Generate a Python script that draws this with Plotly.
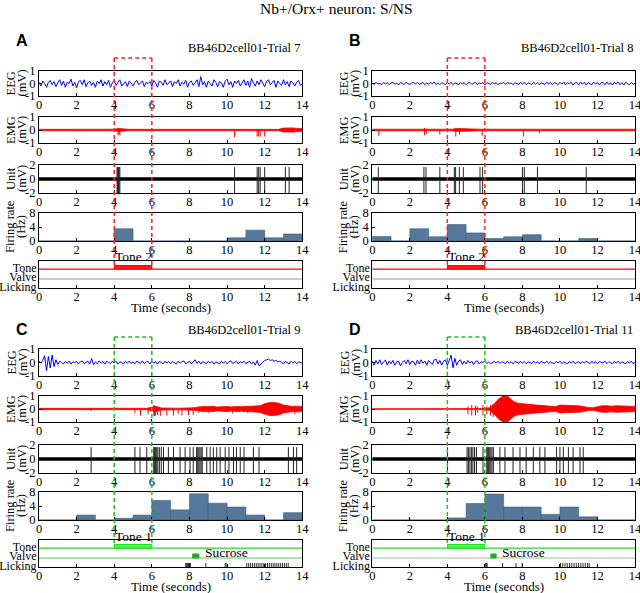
import plotly.graph_objects as go

W, H = 640, 593

# ---------------- data ----------------
panel_letters = ["A", "B", "C", "D"]
trial_labels = ["BB46D2cell01-Trial 7", "BB46D2cell01-Trial 8",
                "BB46D2cell01-Trial 9", "BB46D2cell01-Trial 11"]
tone_names = ["Tone 2", "Tone 2", "Tone 1", "Tone 1"]
x_ticks = [0, 2, 4, 6, 8, 10, 12, 14]

eeg_t = [i / 10 for i in range(141)]
emg_t = [i / 4 for i in range(57)]

eeg_A = [0.1,-0.2,0.2,0.0,-0.3,0.1,0.25,-0.1,0.15,-0.25,
         0.05,0.3,-0.15,0.2,-0.3,0.1,0.0,0.35,-0.2,0.1,
         -0.35,0.15,0.25,-0.1,0.3,-0.25,0.05,0.2,-0.15,0.1,
         -0.3,0.2,0.0,0.3,-0.2,0.15,-0.1,0.25,-0.3,0.05,
         0.2,-0.15,0.1,0.3,-0.2,0.0,0.15,-0.25,0.2,0.05,
         -0.2,0.1,0.25,-0.1,0.05,0.2,-0.25,0.1,0.0,0.15,
         -0.2,0.25,0.05,-0.3,0.2,0.1,-0.15,0.3,-0.1,0.05,
         0.2,-0.25,0.15,0.0,0.3,-0.2,0.1,-0.05,0.25,-0.3,
         0.1,0.2,-0.15,0.05,0.3,-0.25,0.55,-0.1,0.15,-0.3,
         0.2,0.0,-0.2,0.3,0.1,-0.25,0.15,0.05,-0.3,0.2,
         0.35,-0.1,0.15,-0.3,0.2,0.0,0.25,-0.2,0.1,0.3,
         -0.15,0.2,-0.3,0.4,0.05,-0.2,0.2,-0.1,0.3,0.0,
         -0.25,0.15,0.3,-0.1,0.05,0.25,-0.3,0.2,0.0,-0.15,
         0.3,-0.1,0.15,-0.25,0.2,0.05,-0.2,0.1,0.25,-0.15,0.0]
eeg_B = [0.05,-0.08,0.1,-0.05,0.02,-0.1,0.08,-0.03,0.06,-0.09,
         0.03,0.1,-0.06,0.04,-0.12,0.07,0.0,-0.08,0.1,-0.02,
         -0.1,0.06,0.08,-0.05,0.1,-0.07,0.02,0.09,-0.1,0.04,
         -0.06,0.1,-0.02,0.12,-0.08,0.05,-0.1,0.07,0.0,-0.09,
         0.08,-0.05,0.1,-0.1,0.06,0.02,-0.08,0.1,-0.04,0.07,
         -0.1,0.05,0.09,-0.06,0.03,0.1,-0.09,0.04,0.0,0.08,
         -0.12,0.06,0.02,-0.08,0.1,-0.03,0.07,-0.1,0.05,0.0,
         0.08,-0.06,0.1,-0.02,0.05,-0.1,0.07,0.0,-0.08,0.1,
         -0.04,0.09,-0.1,0.06,0.02,-0.08,0.1,-0.05,0.07,-0.1,
         0.05,0.0,-0.07,0.1,-0.03,0.08,-0.1,0.06,0.02,-0.09,
         0.1,-0.05,0.12,-0.1,0.07,-0.02,0.1,-0.12,0.05,0.08,
         -0.1,0.12,-0.06,0.1,-0.12,0.08,0.0,-0.1,0.12,-0.05,
         0.1,-0.12,0.06,0.09,-0.1,0.12,-0.08,0.04,-0.12,0.1,
         -0.05,0.12,-0.1,0.07,-0.12,0.1,0.0,-0.1,0.08,-0.06,0.02]
eeg_C = [0.1,-0.05,0.15,0.5,-0.6,0.45,-0.4,0.55,-0.3,0.2,
         -0.15,0.1,0.0,-0.1,0.08,-0.05,0.1,-0.12,0.05,0.0,
         0.08,-0.1,0.05,0.12,-0.08,0.0,0.1,-0.12,0.3,-0.15,
         0.05,-0.1,0.12,-0.05,0.08,-0.12,0.1,0.0,-0.08,0.1,
         -0.05,0.1,-0.12,0.06,0.0,-0.1,0.08,-0.05,0.1,-0.08,
         0.05,-0.1,0.1,0.0,-0.06,0.12,-0.1,0.05,0.08,-0.12,
         0.1,-0.05,0.06,-0.12,0.08,0.0,-0.1,0.1,-0.05,0.06,
         -0.1,0.08,0.0,-0.12,0.1,-0.06,0.05,0.12,-0.1,0.0,
         0.08,-0.1,0.05,0.2,-0.08,0.1,-0.12,0.06,0.0,-0.1,
         0.1,-0.05,0.08,-0.12,0.05,0.0,-0.1,0.1,-0.06,0.08,
         -0.1,0.05,0.12,-0.08,0.0,0.1,-0.12,0.06,-0.05,0.1,
         -0.08,0.0,0.1,-0.12,0.05,-0.2,0.15,-0.25,-0.1,0.05,
         0.15,0.2,0.25,0.15,0.2,0.1,0.15,0.05,0.1,0.0,
         -0.1,0.08,0.0,-0.12,0.1,-0.05,0.08,-0.1,0.05,0.0,-0.05]
eeg_D = [0.1,-0.2,0.15,-0.1,0.2,-0.15,0.05,0.18,-0.2,0.1,
         -0.1,0.15,-0.2,0.05,0.1,-0.25,0.0,0.15,-0.1,0.2,
         -0.15,0.1,0.05,-0.2,0.18,-0.1,0.2,-0.05,0.1,-0.2,
         0.15,0.0,-0.15,0.2,0.25,-0.1,0.15,-0.2,0.1,0.2,
         -0.2,0.15,0.55,-0.4,0.3,-0.2,0.1,0.2,-0.15,0.1,
         -0.1,0.15,-0.05,0.1,-0.15,0.08,0.12,-0.1,0.05,0.0,
         0.1,-0.08,0.05,-0.1,0.0,0.08,-0.05,0.1,-0.08,0.05,
         0.0,-0.08,0.1,-0.05,0.06,-0.1,0.08,0.0,-0.06,0.1,
         -0.05,0.08,-0.1,0.05,0.0,-0.08,0.1,-0.05,0.06,-0.1,
         0.08,0.0,-0.06,0.1,-0.08,0.05,0.0,-0.1,0.08,-0.05,
         0.1,-0.08,0.05,0.0,-0.1,0.08,-0.05,0.1,-0.08,0.0,
         0.06,-0.1,0.08,-0.05,0.1,0.0,-0.08,0.1,-0.06,0.05,
         -0.1,0.08,0.0,-0.05,0.1,-0.08,0.06,0.0,-0.1,0.08,
         -0.05,0.1,-0.08,0.05,0.0,-0.1,0.08,-0.05,0.1,-0.08,0.0]

# EMG envelope amplitude (mV) every 0.25 s
emg_amp_A = [0.05,0.05,0.05,0.05, 0.05,0.05,0.05,0.05, 0.05,0.05,0.05,0.05,
             0.05,0.05,0.05,0.05, 0.06,0.12,0.06,0.05, 0.05,0.05,0.05,0.05,
             0.05,0.05,0.05,0.05, 0.05,0.05,0.05,0.05, 0.05,0.05,0.05,0.05,
             0.05,0.05,0.05,0.05, 0.05,0.05,0.05,0.05, 0.05,0.05,0.05,0.05,
             0.05,0.05,0.05,0.05, 0.15,0.18,0.16,0.12, 0.10]
emg_amp_B = [0.06,0.06,0.06,0.06, 0.06,0.06,0.06,0.06, 0.06,0.06,0.06,0.1,
             0.08,0.06,0.06,0.06, 0.06,0.06,0.12,0.1, 0.07,0.06,0.06,0.06,
             0.06,0.06,0.06,0.06, 0.06,0.06,0.06,0.06, 0.08,0.07,0.06,0.06,
             0.06,0.06,0.06,0.06, 0.06,0.06,0.06,0.06, 0.06,0.1,0.08,0.06,
             0.06,0.06,0.06,0.06, 0.06,0.06,0.06,0.06, 0.06]
emg_amp_C = [0.05,0.05,0.05,0.05, 0.05,0.05,0.05,0.05, 0.05,0.05,0.05,0.05,
             0.05,0.05,0.05,0.05, 0.05,0.05,0.05,0.05, 0.05,0.05,0.05,0.05,
             0.15,0.2,0.08,0.06, 0.06,0.06,0.06,0.06, 0.08,0.1,0.15,0.2,
             0.18,0.2,0.15,0.18, 0.2,0.15,0.2,0.18, 0.2,0.18,0.22,0.25,
             0.4,0.5,0.5,0.45, 0.3,0.25,0.2,0.22, 0.2]
emg_amp_D = [0.02,0.02,0.02,0.02, 0.02,0.02,0.02,0.02, 0.02,0.02,0.02,0.02,
             0.02,0.02,0.02,0.02, 0.02,0.02,0.02,0.02, 0.02,0.02,0.02,0.02,
             0.03,0.1,0.4,0.8, 1.0,0.95,0.6,0.45, 0.4,0.35,0.3,0.3,
             0.28,0.25,0.2,0.18, 0.3,0.3,0.28,0.25, 0.25,0.2,0.12,0.1,
             0.2,0.25,0.25,0.22, 0.25,0.25,0.22,0.2, 0.2]

# EMG transient spikes: (time, low, high)
emg_spikes_A = [(4.2,-0.4,0.05),(4.25,-0.35,0.1),(4.3,-0.4,0.05),(10.4,-0.55,0.0),
                (11.6,-0.5,0.0),(11.68,-0.5,0.0),(11.76,-0.5,0.0),(12.0,-0.5,0.0)]
emg_spikes_B = [(0.35,-0.45,0.05),(2.78,-0.4,0.15),(2.88,-0.3,0.1),(3.6,-0.35,0.0),
                (4.45,-0.5,0.1),(4.65,-0.35,0.1),(5.85,-0.45,0.0),(8.05,-0.5,0.05),
                (8.9,-0.25,0.0)]
emg_spikes_C = [(2.77,-0.15,0.1),(5.1,-0.3,0.0),(5.4,-0.5,0.0),(5.8,-0.4,0.1),
                (6.1,-0.5,0.3),(6.15,-0.55,0.25),(6.2,-0.5,0.2),(6.3,-0.45,0.15),
                (6.45,-0.55,0.0),(6.8,-0.5,0.0),(7.15,-0.5,0.0),(7.4,-0.4,0.0),
                (7.6,-0.5,0.0),(7.95,-0.45,0.0),(8.2,-0.45,0.1),(8.5,-0.3,0.2),
                (9.0,-0.3,0.2),(10.3,-0.35,0.2),(11.1,-0.3,0.2),(13.6,-0.4,0.2)]
emg_spikes_D = [(5.1,-0.4,0.2),(5.3,-0.5,0.3),(5.5,-0.5,0.25),(5.6,-0.3,0.2),
                (5.9,-0.5,0.3),(6.1,-0.4,0.2),(6.3,-0.5,0.3),(6.45,-0.6,0.4)]

# Unit spike times (s)
unit_spikes_A = [4.15,4.18,4.22,4.26,4.3,10.4,11.6,11.68,11.76,12.0,13.1,13.3]
unit_spikes_B = [0.32,2.75,2.86,3.6,4.37,4.44,4.64,4.85,5.74,5.88,8.0,8.1,8.8,11.4]
unit_spikes_C = [2.77,5.1,5.37,5.73,6.1,6.15,6.2,6.26,6.32,6.4,6.5,6.62,6.88,7.15,
                 7.5,7.77,8.03,8.2,8.38,8.44,8.5,8.56,8.62,8.68,8.92,9.1,9.27,9.45,
                 9.63,9.9,10.1,10.34,10.5,10.7,10.9,11.4,11.7,13.26,13.53,13.7]
unit_spikes_D = [4.01,5.05,5.12,5.2,5.28,5.36,5.45,5.55,5.9,6.1,6.15,6.2,6.26,6.32,
                 6.38,6.45,6.8,7.07,7.5,7.87,8.2,8.58,8.93,9.2,9.82,10.0,10.18,
                 10.45,10.7,11.07,11.24]

# Firing rate (Hz) in 1-s bins, 0-14 s
fr_bins = [0,1,2,3,4,5,6,7,8,9,10,11,12,13]
fr_A = [0,0,0,0,3.5,0,0,0,0,0,0.9,3.1,0.9,2.0]
fr_B = [1.3,0,3.5,1.2,4.7,2.3,0.7,1.2,1.8,0,0,0.7,0,0]
fr_C = [0,0,1.4,0,0.5,1.4,5.6,2.9,7.5,4.8,3.7,1.4,0,2.1]
fr_D = [0,0,0,0,0.6,4.7,7.4,3.7,3.7,1.6,3.7,0.9,0,0]

tone_on = [4.0, 4.0, 4.0, 4.0]
tone_off = [6.0, 6.0, 6.0, 6.0]
valve_on = [None, None, 8.17, 6.32]
valve_off = [None, None, 8.5, 6.6]
valve_label = [None, None, "Sucrose", "Sucrose"]

licks_C = [7.8,7.85,7.9,7.95,8.0,8.05,8.87,9.9,9.95,
           11.05,11.15,11.25,11.35,11.45,11.55,11.65,11.75,11.85,11.95,12.05,
           12.15,12.25,12.35,12.45,12.55,12.65,12.75,12.85,12.95,13.05,13.15,13.25]
licks_D = [6.04,6.08,6.12,6.94,7.66,7.99,10.03,10.15,10.27,10.39,10.51,10.63,
           10.75,10.87,10.99,11.11,11.23,11.35,11.47,11.56]

eeg_all = [eeg_A, eeg_B, eeg_C, eeg_D]
emg_amp_all = [emg_amp_A, emg_amp_B, emg_amp_C, emg_amp_D]
emg_spk_all = [emg_spikes_A, emg_spikes_B, emg_spikes_C, emg_spikes_D]
unit_all = [unit_spikes_A, unit_spikes_B, unit_spikes_C, unit_spikes_D]
fr_all = [fr_A, fr_B, fr_C, fr_D]
licks_all = [[], [], licks_C, licks_D]
t_span = [0, 14]

# ---------------- styling / layout ----------------
SERIF = "Liberation Serif, Times New Roman, serif"
TICK = 12.5
col_x = [(39, 302.3), (372.3, 635)]
rows_top = [(71, 96), (117, 143), (165, 193), (213, 241), (261, 288)]
rows_bot = [(349, 376), (396, 422), (445, 473), (492, 520), (540, 567)]
tone_col = ["#ff0000", "#ff0000", "#22dd22", "#22dd22"]
tone_fill = ["#ff1a1a", "#ff1a1a", "#44ff44", "#44ff44"]
valve_col = ["#999999", "#999999", "#55cc55", "#99bb99"]
dash_col = ["#ff2020", "#ff2020", "#22bb22", "#22bb22"]
bar_fill = "#55799a"
bar_line = "#3c5b78"


def fx(px):
    return px / W


def fy(py):
    return 1 - py / H


fig = go.Figure()
layout = dict(template="none", width=W, height=H, margin=dict(l=0, r=0, t=0, b=0, pad=0),
              paper_bgcolor="white", plot_bgcolor="white", showlegend=False,
              hovermode=False, font=dict(family=SERIF, size=13, color="black"))
annotations = []
shapes = []


def txt(text, x, y, size=13, xanchor="center", angle=0, family=SERIF, xref="paper", yref="paper"):
    annotations.append(dict(text=text, x=x, y=y, xref=xref, yref=yref, showarrow=False,
                            textangle=angle, xanchor=xanchor, yanchor="middle",
                            font=dict(family=family, size=size, color="black")))


txt("Nb+/Orx+ neuron: S/NS", fx(336), fy(9), size=15.5)

ylab1 = ["EEG", "EMG", "Unit", "Firing rate"]
ylab2 = ["(mV)", "(mV)", "(mV)", "(Hz)"]
ylab_off1 = [28, 28, 28, 29]
ylab_off2 = [17, 17, 17, 18]

for p in range(4):
    cx0, cx1 = col_x[p % 2]
    rows = rows_top if p < 2 else rows_bot
    for r in range(5):
        k = p * 5 + r + 1
        xn = "x" if k == 1 else f"x{k}"
        yn = "y" if k == 1 else f"y{k}"
        xkey = "xaxis" if k == 1 else f"xaxis{k}"
        ykey = "yaxis" if k == 1 else f"yaxis{k}"
        top, bot = rows[r]
        layout[xkey] = dict(domain=[fx(cx0), fx(cx1)], anchor=yn, range=t_span,
                            automargin=False, ticklabeloverflow="allow",
                            ticklabelstandoff=-3,
                            tickvals=x_ticks, ticktext=[str(v) for v in x_ticks],
                            ticks="inside", ticklen=3, tickcolor="black",
                            showline=True, mirror=True, linecolor="black", linewidth=1,
                            showgrid=False, zeroline=False,
                            tickfont=dict(family=SERIF, size=TICK))
        yax = dict(domain=[fy(bot), fy(top)], anchor=xn, showline=True, mirror=True,
                   automargin=False, ticklabeloverflow="allow",
                   linecolor="black", linewidth=1, showgrid=False, zeroline=False,
                   ticks="inside", ticklen=3, tickcolor="black",
                   tickfont=dict(family=SERIF, size=TICK))
        if r in (0, 1):
            yax.update(range=[-1, 1], tickvals=[-1, 0, 1], ticktext=["-1", "0", "1"])
        elif r == 2:
            yax.update(range=[-2, 2], tickvals=[-2, 0, 2], ticktext=["-2", "0", "2"])
        elif r == 3:
            yax.update(range=[0, 8], tickvals=[0, 4, 8], ticktext=["0", "4", "8"])
        else:
            yax.update(range=[0, 3], tickvals=[2.2, 1.2, 0.1],
                       ticktext=["Tone", "Valve", "Licking"], ticks="",
                       ticklabelstandoff=-1,
                       tickfont=dict(family=SERIF, size=12))
        layout[ykey] = yax

        if r < 4:
            ymid = fy((top + bot) / 2)
            txt(ylab1[r], fx(cx0 - ylab_off1[r]), ymid, size=12.5, angle=-90)
            txt(ylab2[r], fx(cx0 - ylab_off2[r]), ymid, size=12.5, angle=-90)

        if r == 0:
            fig.add_trace(go.Scatter(x=eeg_t, y=eeg_all[p], mode="lines",
                                     line=dict(color="#0000ff", width=1),
                                     xaxis=xn, yaxis=yn))
        elif r == 1:
            amp = emg_amp_all[p]
            fig.add_trace(go.Scatter(x=emg_t, y=[-a for a in amp], mode="lines",
                                     line=dict(color="#ff0000", width=0.8),
                                     xaxis=xn, yaxis=yn))
            fig.add_trace(go.Scatter(x=emg_t, y=amp, mode="lines", fill="tonexty",
                                     fillcolor="#ff0000",
                                     line=dict(color="#ff0000", width=0.8),
                                     xaxis=xn, yaxis=yn))
            sx, sy = [], []
            for (t, lo, hi) in emg_spk_all[p]:
                sx += [t, t, None]
                sy += [lo, hi, None]
            fig.add_trace(go.Scatter(x=sx, y=sy, mode="lines",
                                     line=dict(color="#ff0000", width=1),
                                     xaxis=xn, yaxis=yn))
        elif r == 2:
            fig.add_trace(go.Scatter(x=t_span, y=[0, 0], mode="lines",
                                     line=dict(color="black", width=3.5),
                                     xaxis=xn, yaxis=yn))
            sx, sy = [], []
            for t in unit_all[p]:
                sx += [t, t, None]
                sy += [-2, 1.7, None]
            fig.add_trace(go.Scatter(x=sx, y=sy, mode="lines",
                                     line=dict(color="#222222", width=1),
                                     xaxis=xn, yaxis=yn))
        elif r == 3:
            fig.add_trace(go.Bar(x=fr_bins, y=fr_all[p], width=1, offset=0,
                                 marker=dict(color=bar_fill,
                                             line=dict(color=bar_line, width=0.6)),
                                 xaxis=xn, yaxis=yn))
        else:
            fig.add_trace(go.Scatter(x=t_span, y=[2.1, 2.1], mode="lines",
                                     line=dict(color=tone_col[p], width=1.2),
                                     xaxis=xn, yaxis=yn))
            fig.add_trace(go.Scatter(x=t_span, y=[1.0, 1.0], mode="lines",
                                     line=dict(color=valve_col[p], width=1.2),
                                     xaxis=xn, yaxis=yn))
            a, b = tone_on[p], tone_off[p]
            fig.add_trace(go.Scatter(x=[a, b, b, a, a], y=[2.1, 2.1, 2.5, 2.5, 2.1],
                                     mode="lines", fill="toself", fillcolor=tone_fill[p],
                                     line=dict(color=tone_col[p], width=1),
                                     xaxis=xn, yaxis=yn))
            if valve_on[p] is not None:
                va, vb = valve_on[p], valve_off[p]
                fig.add_trace(go.Scatter(x=[va, vb, vb, va, va],
                                         y=[1.0, 1.0, 1.45, 1.45, 1.0],
                                         mode="lines", fill="toself", fillcolor="#22aa22",
                                         line=dict(color="#22aa22", width=1),
                                         xaxis=xn, yaxis=yn))
                txt(valve_label[p], vb + 0.2, 1.6, size=13.5, xanchor="left",
                    xref=xn, yref=yn)
            if licks_all[p]:
                sx, sy = [], []
                for t in licks_all[p]:
                    sx += [t, t, None]
                    sy += [0, 0.45, None]
                fig.add_trace(go.Scatter(x=sx, y=sy, mode="lines",
                                         line=dict(color="#333333", width=1),
                                         xaxis=xn, yaxis=yn))
            txt(tone_names[p], (a + b) / 2, fy(top - 4), size=13.5, xref=xn)
            txt("Time (seconds)", fx((cx0 + cx1) / 2), fy(bot + 19), size=13)

    # panel letter & trial label
    txt("<b>" + panel_letters[p] + "</b>", fx(cx0 - 17), fy(40 if p < 2 else 329),
        size=16, family="Liberation Sans, Arial, sans-serif")
    txt(trial_labels[p], fx(cx1), fy(48 if p < 2 else 330), size=12.5, xanchor="right")

    # dashed tone window box
    k0 = p * 5 + 1
    xn0 = "x" if k0 == 1 else f"x{k0}"
    ytop = 58 if p < 2 else 337
    ybot = 265 if p < 2 else 543
    a, b = tone_on[p], tone_off[p]
    ln = dict(color=dash_col[p], width=1.5, dash="4px,3px")
    shapes.append(dict(type="line", xref=xn0, yref="paper", x0=a, x1=a,
                       y0=fy(ytop), y1=fy(ybot), line=ln, layer="above"))
    shapes.append(dict(type="line", xref=xn0, yref="paper", x0=b, x1=b,
                       y0=fy(ytop), y1=fy(ybot), line=ln, layer="above"))
    shapes.append(dict(type="line", xref=xn0, yref="paper", x0=a, x1=b,
                       y0=fy(ytop), y1=fy(ytop), line=ln, layer="above"))

layout["annotations"] = annotations
layout["shapes"] = shapes
fig.update_layout(**layout)
fig.write_html("out.html", config={"displayModeBar": False},
               post_script="document.body.style.margin='0px';document.body.style.overflow='hidden';")
